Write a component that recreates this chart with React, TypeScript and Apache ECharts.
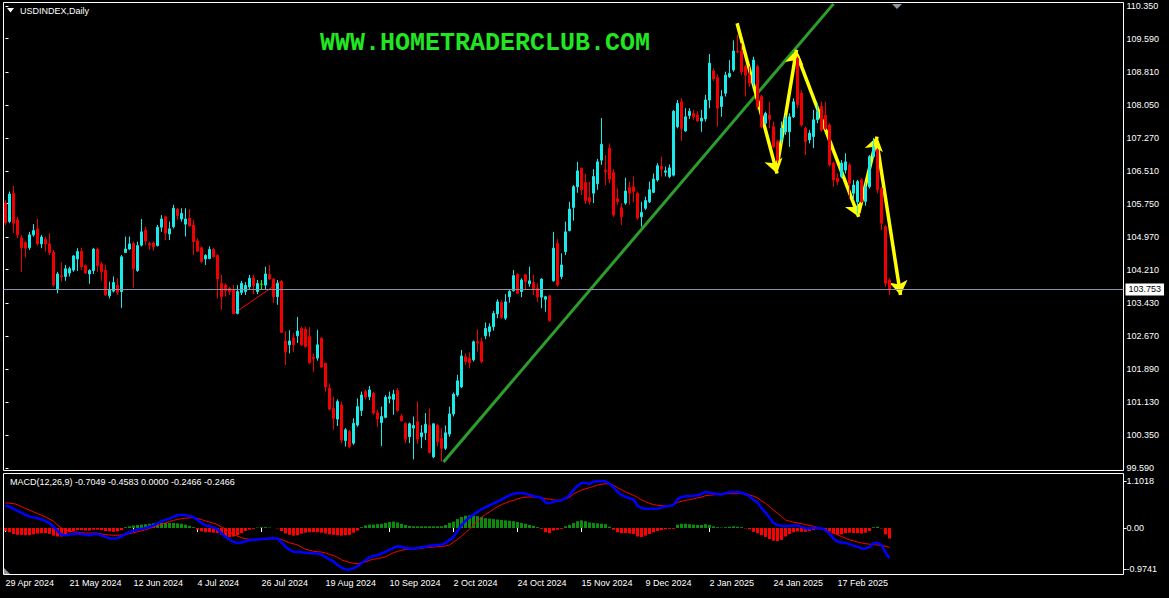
import React, { useEffect, useRef } from "react";
import * as echarts from "echarts";

const FONT = '"Liberation Sans", Arial, sans-serif';
const UP = "#19EBEB";
const DOWN = "#F00000";

const opens = [
105.76,105.33,105.99,105.37,104.95,104.84,104.72,105.02,105.16,104.81,
104.92,104.81,104.61,103.76,104.07,104.05,104.13,104.20,104.46,104.64,
104.30,104.11,104.19,104.69,104.34,104.19,103.60,103.71,103.85,103.70,
104.61,104.69,104.82,104.19,104.78,105.13,104.82,104.83,104.77,105.20,
105.44,105.04,105.21,105.62,105.39,105.27,105.41,105.25,104.88,104.72,
104.46,104.47,104.68,104.54,103.89,103.85,103.78,103.75,103.19,103.68,
103.70,103.81,104.02,103.70,103.87,103.85,104.10,103.99,103.58,103.93,
102.55,102.46,102.62,102.67,102.84,102.82,102.65,102.17,102.15,102.61,
102.03,101.45,100.98,100.73,101.06,100.23,100.44,100.17,100.59,100.93,
101.37,101.25,101.33,100.88,100.65,100.77,101.21,101.19,101.39,100.80,
100.63,100.32,100.52,100.67,100.32,100.41,100.59,99.85,100.59,100.28,
100.05,100.38,100.85,101.29,101.48,102.18,102.15,102.11,102.53,102.53,
102.67,102.77,102.88,103.18,103.44,103.08,103.58,103.72,104.10,103.70,
104.09,103.88,103.91,103.78,103.57,103.52,103.60,103.95,104.82,104.05,
104.63,105.12,105.66,106.14,106.57,106.24,105.89,105.99,106.21,106.76,
106.53,107.04,106.47,105.86,105.65,105.76,106.12,106.14,105.99,105.44,
105.64,105.79,106.01,106.30,106.61,106.48,106.38,106.41,107.54,108.12,
107.44,107.80,107.85,107.81,107.67,107.72,108.16,108.84,108.68,108.01,
108.32,108.70,108.86,109.30,109.29,108.94,108.74,108.55,108.94,108.24,
107.62,107.81,107.54,107.19,107.23,107.42,107.42,107.77,109.13,108.32,
107.50,107.23,107.31,107.70,108.01,107.81,107.58,106.69,106.34,106.38,
106.53,106.65,105.99,105.79,106.30,105.80,106.14,106.84,107.00,106.10,
105.21,103.97
];

const highs = [
105.83,106.03,106.16,105.44,105.02,104.88,105.09,105.27,105.39,105.02,
104.98,105.06,104.67,104.16,104.38,104.32,104.28,104.55,104.71,104.72,
104.33,104.22,104.71,104.72,104.38,104.32,103.93,104.05,104.01,104.55,
104.98,104.98,104.86,104.86,105.39,105.21,104.86,104.87,105.25,105.48,
105.46,105.33,105.72,105.65,105.64,105.64,105.62,105.37,104.94,104.75,
104.57,104.75,104.72,104.57,104.09,103.89,103.81,103.85,103.85,103.95,
103.92,104.09,104.09,103.97,103.97,104.28,104.32,104.01,103.97,103.97,
102.78,102.80,102.73,103.11,102.88,102.88,102.87,102.26,102.81,102.64,
102.04,101.56,101.25,101.19,101.14,100.52,100.48,100.75,101.21,101.37,
101.41,101.50,101.37,100.94,101.02,101.29,101.37,101.41,101.45,100.85,
100.65,100.65,100.79,101.14,100.59,100.87,100.98,100.63,100.61,100.52,
100.58,101.02,101.35,101.76,102.34,102.26,102.28,102.56,102.82,102.63,
102.98,102.96,103.25,103.52,103.50,103.64,103.75,104.20,104.13,104.01,
104.11,104.28,104.09,103.89,104.01,103.60,103.62,105.09,104.92,104.59,
105.33,105.79,106.18,106.72,106.59,106.44,106.26,106.55,106.79,107.74,
106.88,107.15,106.55,106.10,105.76,106.35,106.26,106.38,106.03,105.79,
105.91,106.26,106.45,106.69,106.84,106.61,106.66,107.93,108.16,108.21,
107.97,107.97,107.93,107.90,107.93,108.28,109.23,108.90,108.76,108.39,
108.82,109.09,109.55,109.68,109.48,108.98,108.94,109.17,108.98,108.28,
107.89,108.12,107.66,107.23,107.66,107.81,107.85,108.20,109.17,108.39,
107.54,107.46,107.93,108.08,108.12,108.12,107.62,106.72,106.45,106.76,
106.92,106.69,106.30,106.30,106.34,106.25,106.88,107.28,107.04,106.14,
105.25,104.01
];

const lows = [
105.25,105.29,105.06,104.94,104.16,104.49,104.67,104.98,104.77,104.71,
104.63,104.55,103.81,103.66,103.93,103.95,104.05,104.16,104.18,104.20,
104.11,103.88,104.11,104.16,103.95,103.60,103.54,103.68,103.62,103.32,
104.60,104.67,103.79,104.16,104.75,104.78,104.67,104.65,104.75,105.09,
104.90,104.90,105.17,105.37,105.33,104.98,105.21,104.55,104.63,104.36,
104.32,104.45,104.49,103.54,103.27,103.58,103.62,103.17,103.17,103.62,
103.62,103.74,103.64,103.64,103.74,103.74,103.97,103.43,103.39,102.73,
101.99,102.26,102.29,102.50,102.43,102.39,102.02,101.83,102.09,101.91,
101.37,100.93,100.48,100.57,100.17,100.09,100.05,100.13,100.55,100.80,
101.19,101.17,100.83,100.54,100.10,100.75,101.10,100.83,100.90,100.67,
100.17,100.17,99.79,100.15,100.05,100.24,99.93,99.82,100.09,99.74,
100.01,100.32,100.79,101.25,101.45,101.99,101.91,102.07,102.30,102.03,
102.59,102.65,102.79,103.08,103.06,103.04,103.44,103.70,103.64,103.57,
103.74,103.81,103.62,103.46,103.31,103.23,103.00,103.93,103.81,103.99,
104.55,105.10,105.35,106.00,105.95,105.74,105.72,105.76,106.07,106.65,
106.18,106.22,105.44,105.72,105.25,105.72,105.72,105.78,105.37,105.21,
105.60,105.76,105.99,106.26,106.38,106.38,106.34,106.38,107.50,107.21,
107.42,107.72,107.70,107.66,107.42,107.66,107.97,108.60,107.54,107.77,
108.24,108.68,108.82,109.25,108.74,108.24,108.47,108.47,107.93,107.50,
107.58,107.50,107.04,106.69,107.15,107.35,107.07,107.74,107.97,107.54,
106.88,107.15,107.04,107.62,107.42,107.46,106.61,106.14,106.18,106.34,
106.45,105.87,105.83,105.52,105.76,105.70,106.10,106.80,105.99,105.13,
103.81,103.62
];

const closes = [
105.30,105.97,105.29,105.02,104.72,104.71,105.02,105.12,104.81,104.97,
104.81,104.61,103.85,104.11,104.05,104.23,104.23,104.53,104.63,104.28,
104.13,104.19,104.69,104.30,104.16,103.62,103.74,103.91,103.68,104.51,
104.69,104.81,104.23,104.77,105.09,104.88,104.78,104.74,105.20,105.39,
105.06,105.16,105.64,105.47,105.52,105.39,105.23,104.86,104.64,104.40,
104.54,104.68,104.51,103.99,103.58,103.72,103.70,103.19,103.70,103.89,
103.84,104.01,103.84,103.89,103.87,104.11,103.99,103.58,103.89,102.75,
102.29,102.55,102.46,102.78,102.46,102.42,102.04,102.14,102.46,101.94,
101.48,100.96,100.75,101.14,100.24,100.48,100.09,100.63,101.02,101.29,
101.24,101.41,100.87,100.73,100.79,101.24,101.25,101.31,100.93,100.69,
100.26,100.62,100.58,100.26,100.41,100.61,99.95,100.62,100.20,100.05,
100.41,100.85,101.31,101.62,102.20,102.07,102.04,102.53,102.50,102.07,
102.84,102.88,103.19,103.46,103.10,103.46,103.70,104.07,103.66,103.97,
103.93,103.95,103.74,103.57,103.99,103.58,103.02,104.71,103.85,104.32,
105.09,105.62,106.14,106.51,106.07,105.82,105.79,106.38,106.72,107.13,
106.49,106.32,105.48,105.79,105.44,106.04,105.99,106.03,105.41,105.54,
105.82,106.07,106.32,106.63,106.55,106.51,106.58,107.90,108.08,107.50,
107.77,107.90,107.77,107.67,107.74,108.16,109.02,108.65,107.97,108.24,
108.74,108.78,109.30,109.28,108.82,108.74,108.55,109.09,108.01,107.54,
107.85,107.71,107.07,106.76,107.50,107.74,107.77,108.12,108.05,107.58,
107.19,107.39,107.70,107.89,107.46,107.50,106.65,106.30,106.26,106.69,
106.72,106.22,106.18,106.26,105.79,106.14,106.84,107.07,106.07,105.29,
103.89,103.753
];

const macdLine = [
0.53,0.50,0.45,0.40,0.36,0.31,0.27,0.25,0.23,0.20,
0.16,0.11,0.03,-0.07,-0.16,-0.17,-0.15,-0.14,-0.13,-0.14,
-0.16,-0.17,-0.14,-0.14,-0.18,-0.21,-0.24,-0.25,-0.24,-0.20,
-0.14,-0.10,-0.06,-0.04,-0.02,0.00,0.03,0.06,0.11,0.16,
0.19,0.22,0.26,0.30,0.31,0.30,0.28,0.26,0.19,0.12,
0.06,0.04,0.01,-0.03,-0.13,-0.21,-0.27,-0.33,-0.35,-0.34,
-0.31,-0.29,-0.28,-0.27,-0.26,-0.25,-0.245,-0.24,-0.25,-0.34,
-0.44,-0.51,-0.56,-0.565,-0.57,-0.58,-0.59,-0.60,-0.60,-0.63,
-0.68,-0.74,-0.79,-0.87,-0.93,-0.97,-0.9741,-0.95,-0.90,-0.83,
-0.76,-0.69,-0.66,-0.64,-0.60,-0.56,-0.51,-0.47,-0.43,-0.44,
-0.47,-0.48,-0.49,-0.47,-0.45,-0.44,-0.42,-0.41,-0.40,-0.395,
-0.35,-0.28,-0.21,-0.07,0.07,0.17,0.25,0.32,0.38,0.44,
0.49,0.53,0.58,0.62,0.67,0.72,0.77,0.81,0.82,0.825,
0.81,0.78,0.75,0.73,0.71,0.60,0.58,0.62,0.64,0.65,
0.70,0.77,0.90,0.99,1.06,1.06,1.04,1.09,1.10,1.10,
1.1018,1.04,0.96,0.85,0.78,0.73,0.70,0.67,0.52,0.47,
0.455,0.455,0.455,0.46,0.48,0.51,0.52,0.54,0.68,0.73,
0.745,0.755,0.76,0.77,0.80,0.85,0.83,0.81,0.80,0.79,
0.82,0.84,0.85,0.84,0.83,0.80,0.75,0.66,0.60,0.47,
0.37,0.24,0.12,0.07,0.05,0.05,0.05,0.06,0.06,0.02,
-0.01,-0.01,0.00,0.00,-0.01,-0.05,-0.13,-0.25,-0.32,-0.34,
-0.35,-0.38,-0.42,-0.44,-0.48,-0.48,-0.45,-0.36,-0.35,-0.40,
-0.58,-0.7049
];

const signalLine = [
0.59,0.585,0.575,0.55,0.50,0.46,0.42,0.38,0.34,0.30,
0.26,0.21,0.16,0.07,0.00,-0.05,-0.07,-0.09,-0.10,-0.11,
-0.12,-0.12,-0.12,-0.12,-0.14,-0.155,-0.165,-0.172,-0.17,-0.165,
-0.157,-0.13,-0.11,-0.09,-0.065,-0.04,-0.01,0.024,0.05,0.09,
0.12,0.15,0.18,0.20,0.22,0.23,0.24,0.243,0.225,0.20,
0.165,0.14,0.11,0.08,0.02,-0.02,-0.09,-0.157,-0.19,-0.23,
-0.25,-0.265,-0.275,-0.272,-0.268,-0.26,-0.25,-0.235,-0.248,-0.27,
-0.31,-0.35,-0.37,-0.40,-0.45,-0.50,-0.525,-0.545,-0.56,-0.565,
-0.59,-0.62,-0.645,-0.69,-0.75,-0.78,-0.81,-0.835,-0.84,-0.82,
-0.80,-0.76,-0.737,-0.72,-0.70,-0.68,-0.63,-0.58,-0.55,-0.525,
-0.505,-0.495,-0.49,-0.487,-0.475,-0.46,-0.455,-0.447,-0.44,-0.43,
-0.425,-0.40,-0.33,-0.27,-0.19,-0.11,-0.03,0.07,0.17,0.25,
0.32,0.38,0.44,0.50,0.55,0.59,0.625,0.65,0.685,0.71,
0.725,0.73,0.73,0.725,0.71,0.69,0.68,0.66,0.65,0.66,
0.69,0.72,0.80,0.85,0.89,0.92,0.95,0.98,1.01,1.03,
1.04,1.04,1.00,0.95,0.90,0.85,0.81,0.77,0.72,0.66,
0.62,0.58,0.55,0.535,0.525,0.52,0.518,0.55,0.60,0.63,
0.65,0.667,0.685,0.71,0.73,0.76,0.77,0.78,0.79,0.80,
0.805,0.808,0.808,0.808,0.808,0.805,0.78,0.75,0.71,0.64,
0.58,0.50,0.42,0.35,0.27,0.19,0.16,0.135,0.12,0.10,
0.08,0.06,0.04,0.01,-0.02,-0.05,-0.08,-0.12,-0.16,-0.20,
-0.24,-0.28,-0.30,-0.33,-0.35,-0.37,-0.38,-0.39,-0.40,-0.41,
-0.43,-0.4583
];

const histogram = [
-0.07,-0.10,-0.14,-0.16,-0.16,-0.17,-0.17,-0.15,-0.13,-0.12,
-0.12,-0.14,-0.18,-0.20,-0.20,-0.16,-0.10,-0.07,-0.05,-0.05,
-0.06,-0.06,-0.04,-0.04,-0.05,-0.07,-0.08,-0.09,-0.08,-0.05,
0.02,0.04,0.06,0.07,0.08,0.09,0.10,0.11,0.12,0.12,
0.12,0.12,0.12,0.11,0.10,0.08,0.05,0.02,-0.04,-0.08,
-0.10,-0.10,-0.11,-0.12,-0.16,-0.20,-0.21,-0.20,-0.17,-0.12,
-0.07,-0.04,-0.02,0.01,0.02,0.02,0.01,0.00,-0.01,-0.07,
-0.13,-0.16,-0.18,-0.17,-0.13,-0.11,-0.10,-0.10,-0.10,-0.11,
-0.13,-0.15,-0.16,-0.17,-0.18,-0.17,-0.16,-0.11,-0.06,0.02,
0.06,0.08,0.08,0.09,0.10,0.12,0.14,0.15,0.13,0.10,
0.07,0.05,0.04,0.04,0.04,0.04,0.04,0.04,0.04,0.04,
0.07,0.12,0.15,0.21,0.26,0.29,0.30,0.30,0.28,0.26,
0.23,0.22,0.21,0.20,0.19,0.18,0.17,0.16,0.14,0.12,
0.10,0.07,0.05,0.02,-0.02,-0.10,-0.12,-0.06,-0.04,-0.02,
0.04,0.07,0.12,0.16,0.18,0.16,0.13,0.12,0.11,0.10,
0.09,0.03,-0.04,-0.10,-0.12,-0.12,-0.13,-0.14,-0.20,-0.21,
-0.18,-0.14,-0.10,-0.07,-0.05,-0.03,-0.02,-0.02,0.08,0.10,
0.10,0.09,0.08,0.07,0.07,0.09,0.07,0.04,0.02,0.01,
0.02,0.03,0.04,0.03,0.02,-0.01,-0.03,-0.09,-0.12,-0.17,
-0.21,-0.26,-0.30,-0.31,-0.28,-0.20,-0.14,-0.10,-0.08,-0.09,
-0.09,-0.07,-0.05,-0.03,-0.04,-0.05,-0.07,-0.13,-0.16,-0.15,
-0.12,-0.11,-0.12,-0.12,-0.13,-0.11,-0.07,0.02,0.03,-0.01,
-0.15,-0.2466
];

const dateTicks = [
  "29 Apr 2024", "21 May 2024", "12 Jun 2024", "4 Jul 2024", "26 Jul 2024",
  "19 Aug 2024", "10 Sep 2024", "2 Oct 2024", "24 Oct 2024", "15 Nov 2024",
  "9 Dec 2024", "2 Jan 2025", "24 Jan 2025", "17 Feb 2025",
];
const priceTicks = [
  110.35, 109.59, 108.81, 108.05, 107.27, 106.51, 105.75, 104.97,
  104.21, 103.43, 102.67, 101.89, 101.13, 100.35, 99.59,
];
const macdTicks = [1.1018, 0, -0.9741];

// Trend-line annotations drawn on the chart (bar index, price)
const greenTrend = [[109.5, 99.73], [207, 110.40]];
const redTrend = [[57.1, 103.19], [69, 103.95]];
const yellowArrows = [
  [[182.9, 109.95], [192.9, 106.45]],
  [[192.9, 106.61], [197.75, 109.33]],
  [[197.9, 109.21], [213.3, 105.44]],
  [[213.3, 105.52], [217.9, 107.31]],
  [[217.9, 107.15], [223.75, 103.62]],
];

const SLOTS = 280;
const MONTHS = ["Jan","Feb","Mar","Apr","May","Jun","Jul","Aug","Sep","Oct","Nov","Dec"];
const HOLIDAYS = ["2024-12-25", "2025-01-01"];

function tradingDays(n: number): string[] {
  const out: string[] = [];
  const d = new Date(Date.UTC(2024, 3, 29));
  while (out.length < n) {
    const wd = d.getUTCDay();
    const iso = d.toISOString().slice(0, 10);
    if (wd !== 0 && wd !== 6 && HOLIDAYS.indexOf(iso) < 0) {
      out.push(`${d.getUTCDate()} ${MONTHS[d.getUTCMonth()]} ${d.getUTCFullYear()}`);
    }
    d.setUTCDate(d.getUTCDate() + 1);
  }
  return out;
}

export default function App() {
  const ref = useRef<HTMLDivElement>(null);

  useEffect(() => {
    if (!ref.current) return;
    const chart = echarts.init(ref.current, undefined, { renderer: "svg" });
    const cats = tradingDays(SLOTS);
    const candles = opens.map((o, i) => {
      const c = closes[i];
      return [o, c, Math.min(lows[i], o, c), Math.max(highs[i], o, c)];
    });
    const lastClose = closes[closes.length - 1];
    const showDate = (_i: number, v: string) => dateTicks.indexOf(v) >= 0;

    const option: any = {
      animation: false,
      backgroundColor: "#000000",
      textStyle: { fontFamily: FONT },
      grid: [
        { left: 3.5, top: 2.5, width: SLOTS * 4, height: 468, show: true, borderColor: "#FFFFFF", borderWidth: 1, backgroundColor: "transparent" },
        { left: 3.5, top: 473.5, width: SLOTS * 4, height: 101, show: true, borderColor: "#FFFFFF", borderWidth: 1, backgroundColor: "transparent" },
      ],
      xAxis: [
        { type: "category", gridIndex: 0, data: cats, boundaryGap: true, show: false },
        {
          type: "category", gridIndex: 1, data: cats, boundaryGap: true,
          axisLine: { show: false },
          axisTick: { show: true, alignWithLabel: true, interval: showDate, length: 4, lineStyle: { color: "#FFFFFF" } },
          axisLabel: { interval: showDate, align: "left", color: "#FFFFFF", fontSize: 9, fontFamily: FONT, margin: 4 },
          splitLine: { show: false },
        },
        { type: "value", gridIndex: 0, min: -0.5, max: SLOTS - 0.5, show: false },
      ],
      yAxis: [
        {
          type: "value", gridIndex: 0, position: "right", min: 99.5326, max: 110.4315,
          splitLine: { show: false }, axisLine: { show: false },
          axisTick: { show: true, customValues: priceTicks, length: 3, lineStyle: { color: "#FFFFFF" } },
          axisLabel: { customValues: priceTicks, formatter: (v: number) => v.toFixed(3), color: "#FFFFFF", fontSize: 9, fontFamily: FONT, margin: 3 },
        },
        {
          type: "value", gridIndex: 1, position: "right", min: -1.0941, max: 1.2824,
          splitLine: { show: false }, axisLine: { show: false },
          axisTick: { show: true, customValues: macdTicks, length: 3, lineStyle: { color: "#FFFFFF" } },
          axisLabel: { customValues: macdTicks, formatter: (v: number) => (v === 0 ? "0.00" : v.toFixed(4)), color: "#FFFFFF", fontSize: 9, fontFamily: FONT, margin: 3 },
        },
      ],
      series: [
        {
          type: "candlestick", xAxisIndex: 0, yAxisIndex: 0, data: candles, barWidth: 2,
          itemStyle: { color: UP, color0: DOWN, borderColor: UP, borderColor0: DOWN, borderColorDoji: "#00FF00", borderWidth: 1 },
          markLine: {
            silent: true, symbol: ["none", "none"],
            lineStyle: { color: "#8A94A6", width: 1, type: "solid" },
            label: { position: "end", formatter: lastClose.toFixed(3), backgroundColor: "#FFFFFF", color: "#000000", fontSize: 9, fontFamily: FONT, padding: [2, 3, 1, 3], distance: 2 },
            data: [{ yAxis: lastClose }],
          },
        },
        {
          type: "lines", coordinateSystem: "cartesian2d", xAxisIndex: 2, yAxisIndex: 0, silent: true,
          lineStyle: { color: "#2C9E2C", width: 3, opacity: 1 },
          data: [{ coords: greenTrend }],
        },
        {
          type: "lines", coordinateSystem: "cartesian2d", xAxisIndex: 2, yAxisIndex: 0, silent: true,
          lineStyle: { color: "#FF0000", width: 1, opacity: 1 },
          data: [{ coords: redTrend }],
        },
        {
          type: "lines", coordinateSystem: "cartesian2d", xAxisIndex: 2, yAxisIndex: 0, silent: true,
          symbol: ["none", "arrow"], symbolSize: 14,
          lineStyle: { color: "#FFFF00", width: 3.5, opacity: 1 },
          itemStyle: { color: "#FFFF00" },
          data: yellowArrows.map((c) => ({ coords: c })),
        },
        {
          type: "bar", xAxisIndex: 1, yAxisIndex: 1, barWidth: 3,
          data: histogram.map((v) => ({ value: v, itemStyle: { color: v >= 0 ? "#0C8C0C" : "#FF0000" } })),
        },
        {
          type: "line", xAxisIndex: 1, yAxisIndex: 1, data: signalLine, showSymbol: false, symbol: "none",
          lineStyle: { color: "#FF0000", width: 1 },
        },
        {
          type: "line", xAxisIndex: 1, yAxisIndex: 1, data: macdLine, showSymbol: false, symbol: "none",
          lineStyle: { color: "#0000FF", width: 2.5 },
        },
      ],
      graphic: [
        { type: "polygon", shape: { points: [[7, 8], [14, 8], [10.5, 12.5]] }, style: { fill: "#FFFFFF" } },
        { type: "text", x: 20, y: 11, style: { text: "USDINDEX,Daily", fill: "#FFFFFF", font: `9px ${FONT}`, verticalAlign: "middle" } },
        { type: "text", x: 320, y: 43, style: { text: "WWW.HOMETRADERCLUB.COM", fill: "#22E622", font: 'bold 25px "Liberation Mono", monospace', verticalAlign: "middle" } },
        { type: "polygon", shape: { points: [[892, 4], [902, 4], [897, 9]] }, style: { fill: "#8C96A0" } },
        { type: "text", x: 10, y: 482, style: { text: "MACD(12,26,9) -0.7049 -0.4583 0.0000 -0.2466 -0.2466", fill: "#FFFFFF", font: `9px ${FONT}`, verticalAlign: "middle" } },
        { type: "polygon", shape: { points: [[4, 568], [4, 574], [10, 574]] }, style: { fill: "#8C96A0" } },
      ],
    };
    chart.setOption(option);
    return () => chart.dispose();
  }, []);

  return (
    <div
      ref={ref}
      style={{ position: "fixed", left: 0, top: 0, width: "1169px", height: "598px", background: "#000000" }}
    />
  );
}
